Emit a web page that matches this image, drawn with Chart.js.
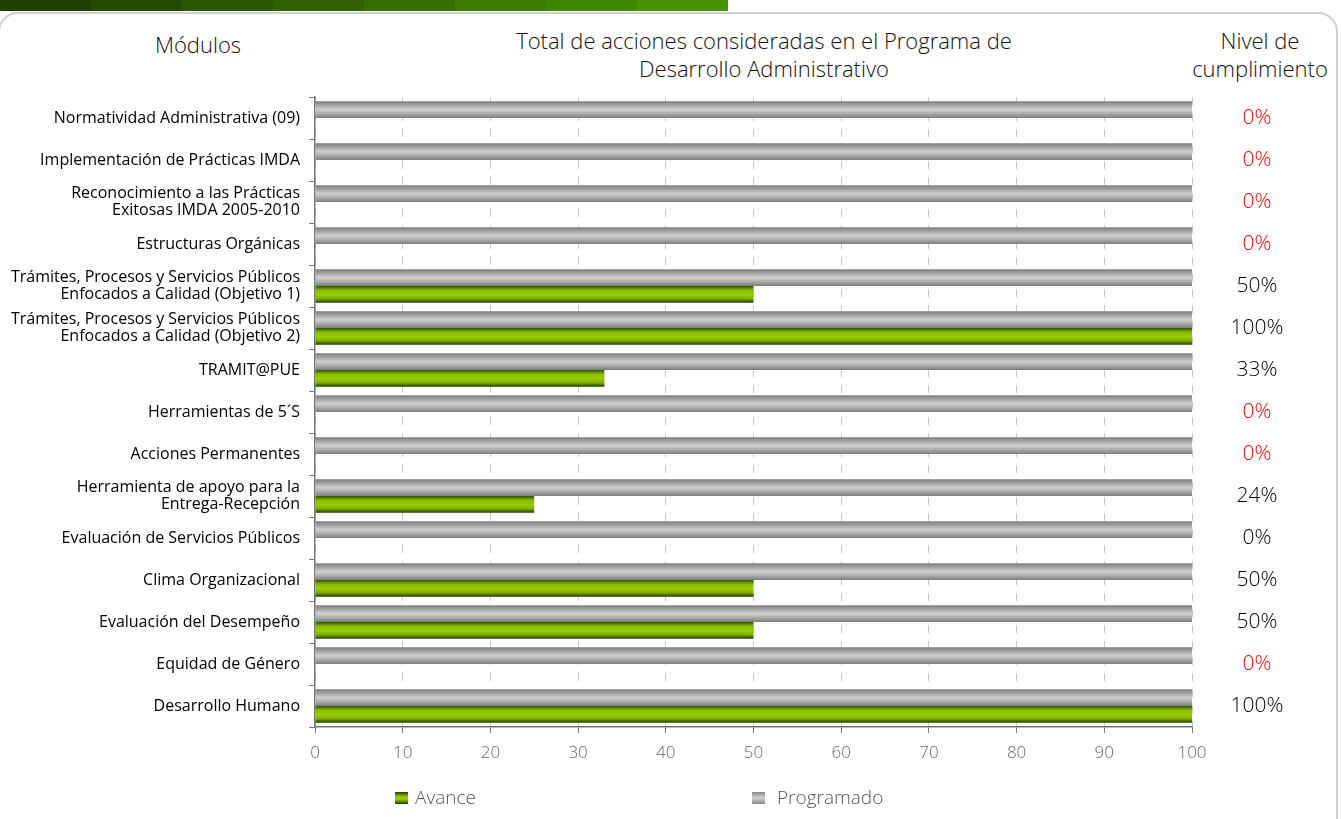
<!DOCTYPE html>
<html>
<head>
<meta charset="utf-8">
<script src="https://cdn.jsdelivr.net/npm/chart.js@4.4.1/dist/chart.umd.min.js"></script>
<style>
  body { margin: 0; background: #fff; overflow: hidden; width: 1341px; height: 819px; position: relative; font-family: "Open Sans", sans-serif; }
  #banda { position: absolute; left: 0; top: 0; height: 11px; display: flex; }
  #banda div { width: 91px; height: 11px; }
  #marco { position: absolute; left: -2px; top: 12px; width: 1336px; height: 900px; border: 2px solid #cfcfcf; border-radius: 20px; }
  .cab { position: absolute; text-align: center; font-size: 22px; color: #111; line-height: 28px; font-weight: 300; }
  #leyenda span { position: absolute; font-size: 19px; color: #555; top: 784px; font-weight: 300; }
  #leyenda i { position: absolute; width: 13px; height: 12px; top: 792px; }
  canvas { position: absolute; left: 0; top: 0; }
</style>
</head>
<body>
<div id="banda">
  <div style="background:#213f00"></div><div style="background:#264b00"></div>
  <div style="background:#2b5700"></div><div style="background:#306300"></div>
  <div style="background:#356f00"></div><div style="background:#3a7b00"></div>
  <div style="background:#408700"></div><div style="background:#469300"></div>
</div>
<div id="marco"></div>
<div class="cab" style="left:98px;top:30px;width:200px;">Módulos</div>
<div class="cab" style="left:464px;top:26px;width:600px;">Total de acciones consideradas en el Programa de<br>Desarrollo Administrativo</div>
<div class="cab" style="left:1180px;top:26px;width:160px;">Nivel de<br>cumplimiento</div>
<div class="wrap" style="position:absolute;left:0;top:0;width:1290px;height:819px;">
  <canvas id="grafica"></canvas>
</div>
<div id="leyenda">
  <i style="left:395px;background:linear-gradient(#1f4000,#99cc00 40%,#99cc00 60%,#1f4000)"></i>
  <span style="left:415px;">Avance</span>
  <i style="left:752px;background:linear-gradient(#888,#d2d2d2 50%,#888)"></i>
  <span style="left:777px;">Programado</span>
</div>
<script>
// Módulos del programa (de arriba hacia abajo)
const modulos = [
  'Normatividad Administrativa (09)',
  'Implementación de Prácticas IMDA',
  ['Reconocimiento a las Prácticas', 'Exitosas IMDA 2005-2010'],
  'Estructuras Orgánicas',
  ['Trámites, Procesos y Servicios Públicos', 'Enfocados a Calidad (Objetivo 1)'],
  ['Trámites, Procesos y Servicios Públicos', 'Enfocados a Calidad (Objetivo 2)'],
  'TRAMIT@PUE',
  'Herramientas de 5´S',
  'Acciones Permanentes',
  ['Herramienta de apoyo para la', 'Entrega-Recepción'],
  'Evaluación de Servicios Públicos',
  'Clima Organizacional',
  'Evaluación del Desempeño',
  'Equidad de Género',
  'Desarrollo Humano'
];

// Valores de las series
const programado = [100, 100, 100, 100, 100, 100, 100, 100, 100, 100, 100, 100, 100, 100, 100];
const avance = [0, 0, 0, 0, 50, 100, 33, 0, 0, 25, 0, 50, 50, 0, 100];

// Nivel de cumplimiento (texto y si va en rojo)
const cumplimiento = ['0%', '0%', '0%', '0%', '50%', '100%', '33%', '0%', '0%', '24%', '0%', '50%', '50%', '0%', '100%'];
const enRojo = [true, true, true, true, false, false, false, true, true, false, false, false, false, true, false];

const ticksX = [0, 10, 20, 30, 40, 50, 60, 70, 80, 90, 100];

// Degradado vertical para cada barra
function degradado(ctx, colores) {
  const chart = ctx.chart;
  const ys = chart.scales.y;
  if (ctx.type !== 'data' || !ys) return colores[2];
  const centro = ys.getPixelForValue(ctx.dataIndex);
  const alto = (ys.height / modulos.length) * 0.8 / 2;
  if (!isFinite(centro) || !isFinite(alto) || alto <= 0) return colores[2];
  const arriba = ctx.datasetIndex === 0 ? centro - alto : centro;
  const g = chart.ctx.createLinearGradient(0, arriba, 0, arriba + alto);
  colores.forEach((c, i) => g.addColorStop(i / (colores.length - 1), c));
  return g;
}

// Plugin para escribir el nivel de cumplimiento a la derecha
const nivelPlugin = {
  id: 'nivel',
  afterDatasetsDraw(chart) {
    const { ctx, chartArea, scales } = chart;
    ctx.save();
    ctx.font = '300 21px "Open Sans", sans-serif';
    ctx.textAlign = 'center';
    ctx.textBaseline = 'middle';
    cumplimiento.forEach((t, i) => {
      ctx.fillStyle = enRojo[i] ? '#ff0000' : '#000';
      ctx.fillText(t, chartArea.right + 65, scales.y.getPixelForValue(i));
    });
    ctx.restore();
  }
};

new Chart(document.getElementById('grafica'), {
  type: 'bar',
  data: {
    labels: modulos,
    datasets: [{
      label: 'Programado',
      data: programado,
      backgroundColor: ctx => degradado(ctx, ['#7e7e7e', '#a4a4a4', '#d0d0d0', '#aaaaaa', '#7e7e7e'])
    }, {
      label: 'Avance',
      data: avance,
      backgroundColor: ctx => degradado(ctx, ['#2c5500', '#88bb00', '#9acc00', '#7fb000', '#1c3a00'])
    }]
  },
  options: {
    indexAxis: 'y',
    responsive: true,
    maintainAspectRatio: false,
    animation: false,
    categoryPercentage: 0.8,
    barPercentage: 1.0,
    layout: { padding: { top: 97, right: 98, bottom: 32, left: 0 } },
    plugins: {
      legend: { display: false },
      tooltip: { enabled: false }
    },
    scales: {
      x: {
        min: 0,
        max: 100,
        afterBuildTicks: s => { s.ticks = ticksX.map(v => ({ value: v })); },
        afterFit: s => { s.height = 60; },
        ticks: { color: '#666', padding: 10, font: { family: '"Open Sans", sans-serif', size: 17, weight: 300 } },
        grid: { color: '#c8c8c8', tickColor: '#777', tickLength: 6, tickBorderDash: [] },
        border: { color: '#777', width: 1.5, dash: [8, 8] }
      },
      y: {
        afterFit: s => { s.width = 315; },
        ticks: { color: '#000', padding: 9, font: { family: '"Open Sans", sans-serif', size: 16, lineHeight: 1.05 } },
        grid: { drawOnChartArea: false, tickColor: '#777', tickLength: 6, tickBorderDash: [] },
        border: { color: '#777', width: 1.5 }
      }
    }
  },
  plugins: [nivelPlugin]
});
</script>
</body>
</html>
